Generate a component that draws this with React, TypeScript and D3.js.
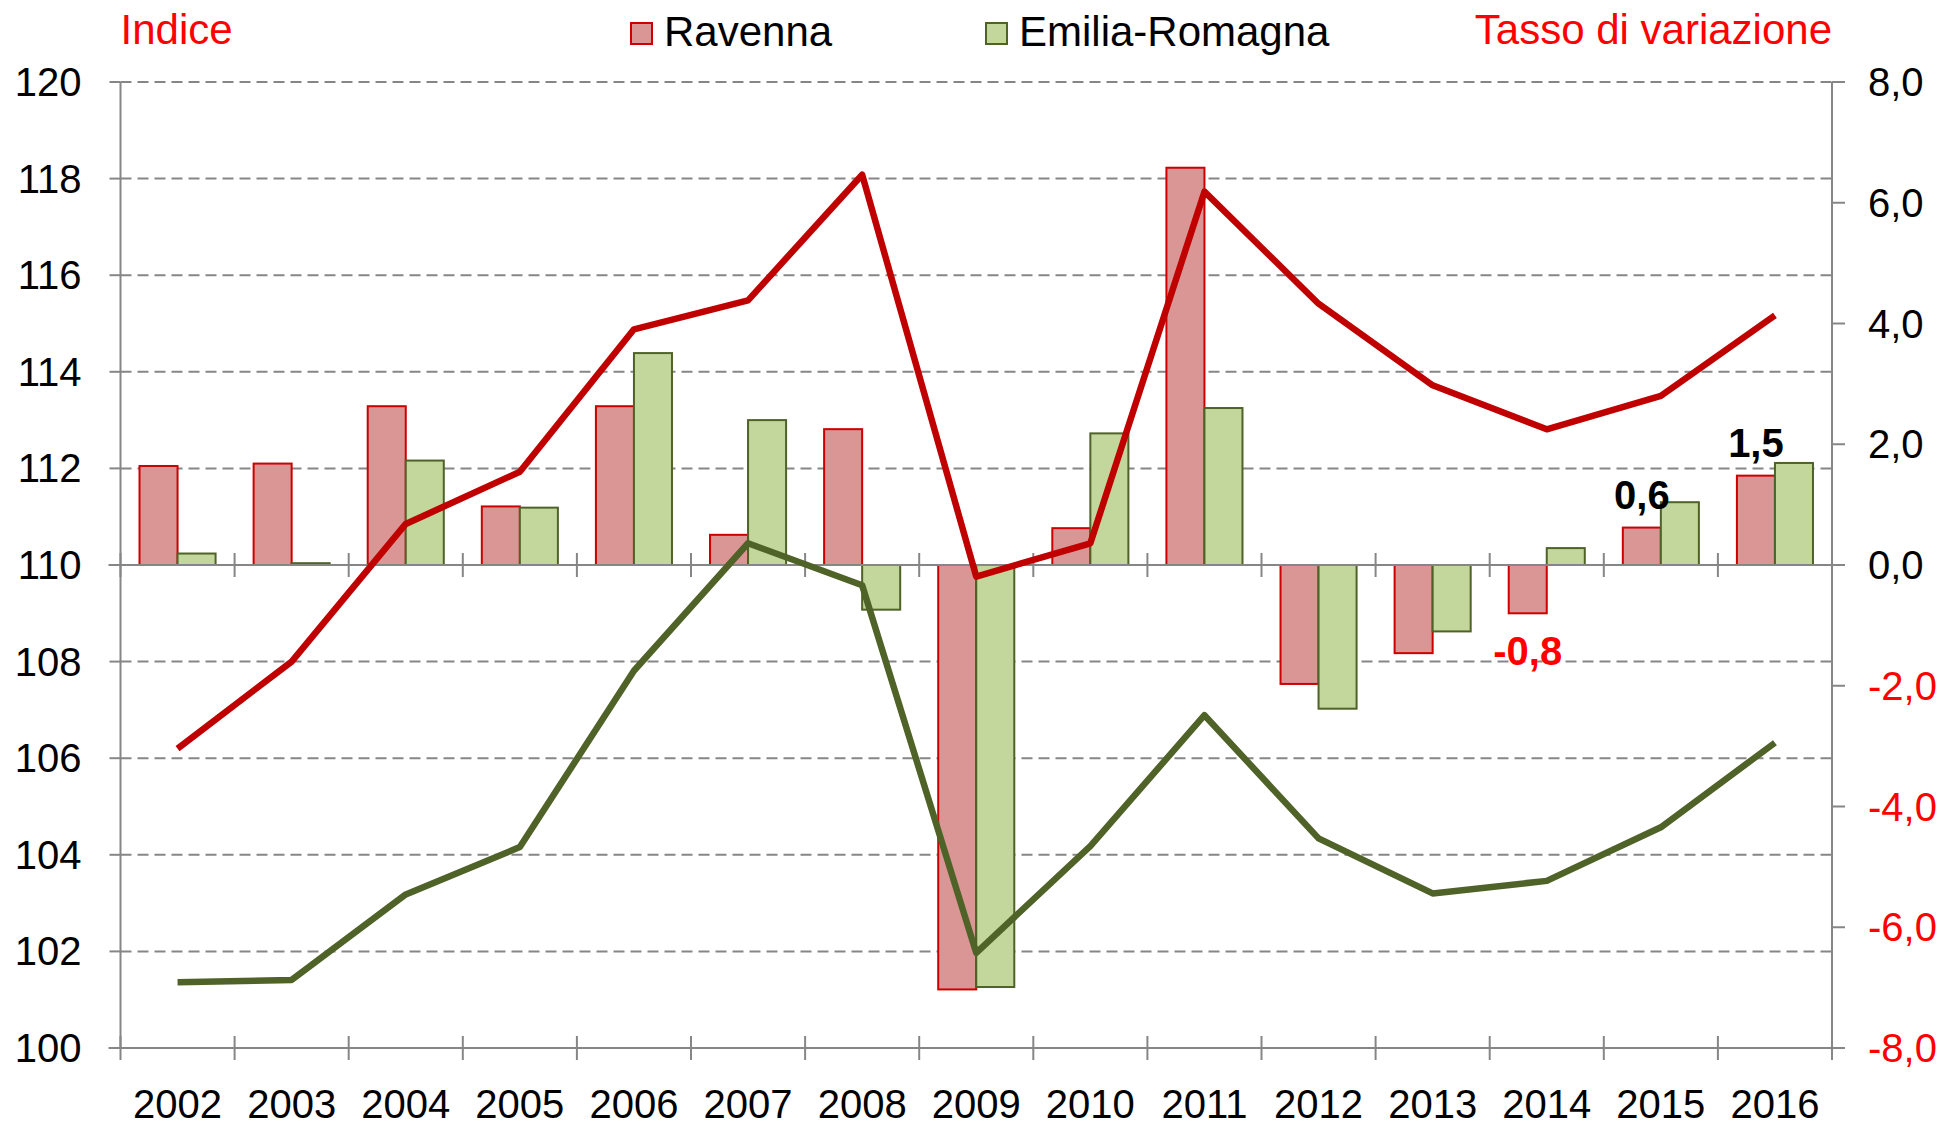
import * as d3 from 'd3';
import { useEffect, useRef } from 'react';

// Anni
const years = ['2002', '2003', '2004', '2005', '2006', '2007', '2008', '2009', '2010', '2011', '2012', '2013', '2014', '2015', '2016'];

// Tasso di variazione (asse destro, barre)
const ravennaRate = [1.64, 1.68, 2.63, 0.97, 2.63, 0.5, 2.25, -7.03, 0.61, 6.58, -1.97, -1.46, -0.8, 0.62, 1.48];
const emiliaRate = [0.19, 0.03, 1.73, 0.95, 3.51, 2.4, -0.74, -6.99, 2.18, 2.6, -2.38, -1.1, 0.28, 1.04, 1.69];

// Indice (asse sinistro, linee)
const ravennaIndex = [106.2, 108.0, 110.85, 111.93, 114.88, 115.48, 118.08, 109.76, 110.45, 117.73, 115.41, 113.72, 112.81, 113.5, 115.17];
const emiliaIndex = [101.36, 101.41, 103.18, 104.16, 107.81, 110.45, 109.58, 101.97, 104.18, 106.89, 104.34, 103.2, 103.46, 104.57, 106.32];

// Tick
const leftTicks = [100, 102, 104, 106, 108, 110, 112, 114, 116, 118, 120];
const rightTicks = [-8, -6, -4, -2, 0, 2, 4, 6, 8];

// Etichette sulle barre di Ravenna
const labelYears = ['2014', '2015', '2016'];

const FONT = '"Liberation Sans", Arial, sans-serif';
const RED_LINE = '#C00000';
const GREEN_LINE = '#4F6228';
const RED_FILL = '#D99694';
const GREEN_FILL = '#C3D69B';
const BAR_RED_STROKE = '#CC0000';
const GRID = '#868686';

export default function App() {
    const svgRef = useRef<SVGSVGElement | null>(null);

    useEffect(() => {
        if (!svgRef.current) return;
        document.body.style.margin = '0';

        const width = 1948;
        const height = 1129;
        const margin = { top: 82, right: 116, bottom: 81, left: 120.5 };
        const x0 = margin.left;
        const x1 = width - margin.right;
        const yTop = margin.top;
        const yBottom = height - margin.bottom;

        const svg = d3.select(svgRef.current)
            .attr('width', width)
            .attr('height', height);
        svg.selectAll('*').remove();

        const xScale = d3.scaleBand<string>().domain(years).range([x0, x1]).padding(0);
        const xSub = d3.scaleBand<string>().domain(['r', 'e']).range([0, xScale.bandwidth()]).paddingInner(0).paddingOuter(0.5);
        const yLeft = d3.scaleLinear().domain([100, 120]).range([yBottom, yTop]);
        const yRight = d3.scaleLinear().domain([-8, 8]).range([yBottom, yTop]);

        // Griglia
        svg.append('g')
            .selectAll('line')
            .data(leftTicks.filter(t => t !== 100 && t !== 110))
            .join('line')
            .attr('x1', x0).attr('x2', x1)
            .attr('y1', d => yLeft(d)).attr('y2', d => yLeft(d))
            .attr('stroke', GRID)
            .attr('stroke-width', 2)
            .attr('stroke-dasharray', '11,6');

        // Barre
        const bars = svg.append('g');
        const barData = years.flatMap((y, i) => [
            { year: y, key: 'r', value: ravennaRate[i] },
            { year: y, key: 'e', value: emiliaRate[i] },
        ]);
        bars.selectAll('rect')
            .data(barData)
            .join('rect')
            .attr('x', d => xScale(d.year)! + xSub(d.key)!)
            .attr('width', xSub.bandwidth())
            .attr('y', d => Math.min(yRight(d.value), yRight(0)))
            .attr('height', d => Math.abs(yRight(d.value) - yRight(0)))
            .attr('fill', d => (d.key === 'r' ? RED_FILL : GREEN_FILL))
            .attr('stroke', d => (d.key === 'r' ? BAR_RED_STROKE : GREEN_LINE))
            .attr('stroke-width', 2);

        // Assi
        const axes = svg.append('g').attr('stroke', GRID).attr('stroke-width', 2);
        axes.append('line').attr('x1', x0).attr('x2', x0).attr('y1', yTop).attr('y2', yBottom);
        axes.append('line').attr('x1', x1).attr('x2', x1).attr('y1', yTop).attr('y2', yBottom);
        [yLeft(110), yBottom].forEach(yy => {
            axes.append('line').attr('x1', x0 - 12).attr('x2', x1).attr('y1', yy).attr('y2', yy);
            const bounds = years.map(y => xScale(y)!).concat([x1]);
            bounds.forEach(bx => {
                axes.append('line').attr('x1', bx).attr('x2', bx).attr('y1', yy - 12).attr('y2', yy + 12);
            });
        });
        leftTicks.forEach(t => {
            axes.append('line').attr('x1', x0 - 11).attr('x2', x0).attr('y1', yLeft(t)).attr('y2', yLeft(t));
        });
        rightTicks.forEach(t => {
            axes.append('line').attr('x1', x1).attr('x2', x1 + 13).attr('y1', yRight(t)).attr('y2', yRight(t));
        });

        // Etichette assi
        svg.append('g')
            .selectAll('text')
            .data(leftTicks)
            .join('text')
            .attr('x', x0 - 39)
            .attr('y', d => yLeft(d) + 14)
            .attr('text-anchor', 'end')
            .attr('font-family', FONT)
            .attr('font-size', 40)
            .attr('fill', '#000')
            .text(d => d);

        const fmt = (v: number) => v.toFixed(1).replace('.', ',');
        svg.append('g')
            .selectAll('text')
            .data(rightTicks)
            .join('text')
            .attr('x', x1 + 36)
            .attr('y', d => yRight(d) + 14)
            .attr('font-family', FONT)
            .attr('font-size', 40)
            .attr('fill', d => (d < 0 ? '#FF0000' : '#000'))
            .text(d => fmt(d));

        svg.append('g')
            .selectAll('text')
            .data(years)
            .join('text')
            .attr('x', d => xScale(d)! + xScale.bandwidth() / 2)
            .attr('y', 1118)
            .attr('text-anchor', 'middle')
            .attr('font-family', FONT)
            .attr('font-size', 40)
            .attr('fill', '#000')
            .text(d => d);

        // Linee
        const line = d3.line<number>()
            .x((_, i) => xScale(years[i])! + xScale.bandwidth() / 2)
            .y(d => yLeft(d));

        svg.append('path')
            .datum(emiliaIndex)
            .attr('fill', 'none')
            .attr('stroke', GREEN_LINE)
            .attr('stroke-width', 6.5)
            .attr('stroke-linejoin', 'round')
            .attr('d', line);

        svg.append('path')
            .datum(ravennaIndex)
            .attr('fill', 'none')
            .attr('stroke', RED_LINE)
            .attr('stroke-width', 6.5)
            .attr('stroke-linejoin', 'round')
            .attr('d', line);

        // Etichette dati
        svg.append('g')
            .selectAll('text')
            .data(labelYears)
            .join('text')
            .attr('x', d => xScale(d)! + xSub('r')! + xSub.bandwidth() / 2)
            .attr('y', d => {
                const v = ravennaRate[years.indexOf(d)];
                return v >= 0 ? yRight(v) - 19 : yRight(v) + 52;
            })
            .attr('text-anchor', 'middle')
            .attr('font-family', FONT)
            .attr('font-size', 40)
            .attr('font-weight', 'bold')
            .attr('fill', d => (ravennaRate[years.indexOf(d)] < 0 ? '#FF0000' : '#000'))
            .text(d => fmt(ravennaRate[years.indexOf(d)]));

        // Titoli e legenda
        const top = svg.append('g').attr('font-family', FONT).attr('font-size', 42);
        top.append('text').attr('x', x0).attr('y', 44).attr('fill', '#FF0000').text('Indice');
        top.append('text').attr('x', x1).attr('y', 44).attr('text-anchor', 'end').attr('fill', '#FF0000').text('Tasso di variazione');

        const legend = [
            { name: 'Ravenna', fill: RED_FILL, stroke: BAR_RED_STROKE, x: 631 },
            { name: 'Emilia-Romagna', fill: GREEN_FILL, stroke: GREEN_LINE, x: 986 },
        ];
        legend.forEach(l => {
            top.append('rect')
                .attr('x', l.x).attr('y', 23)
                .attr('width', 21).attr('height', 21)
                .attr('fill', l.fill)
                .attr('stroke', l.stroke)
                .attr('stroke-width', 2);
            top.append('text').attr('x', l.x + 33).attr('y', 46).attr('fill', '#000').text(l.name);
        });
    }, []);

    return (
        <div style={{ position: 'absolute', left: 0, top: 0 }}>
            <svg ref={svgRef} style={{ display: 'block' }} />
        </div>
    );
}
